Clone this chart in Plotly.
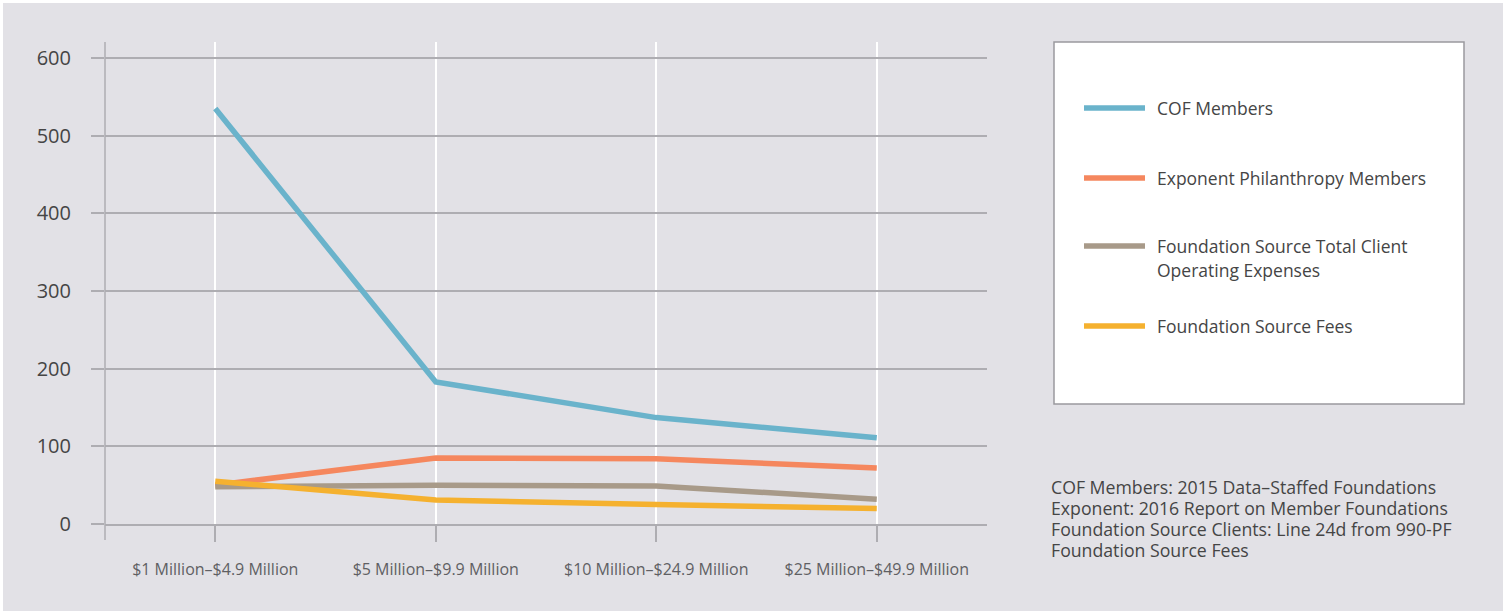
import plotly.graph_objects as go

categories = ["$1 Million\u2013$4.9 Million", "$5 Million\u2013$9.9 Million",
              "$10 Million\u2013$24.9 Million", "$25 Million\u2013$49.9 Million"]
cof_members = [535, 183, 137, 111]
exponent_members = [50, 85, 84, 72]
fs_total_opex = [48, 50, 49, 32]
fs_fees = [55, 31, 25, 20]
y_ticks = [0, 100, 200, 300, 400, 500, 600]

series_names = ["COF Members", "Exponent Philanthropy Members",
                "Foundation Source Total Client<br>Operating Expenses", "Foundation Source Fees"]
series_values = [cof_members, exponent_members, fs_total_opex, fs_fees]
series_colors = ["#6ab3cb", "#f5875e", "#a89a89", "#f5b12f"]

notes = ["COF Members: 2015 Data\u2013Staffed Foundations",
         "Exponent: 2016 Report on Member Foundations",
         "Foundation Source Clients: Line 24d from 990-PF",
         "Foundation Source Fees"]

OFF = 3  # page margin
W, H = 1503 - OFF, 611 - OFF
PL, PR, PT, PB = 105, 987, 42, 524  # plot area in page pixels
L, T = PL - OFF, PT - OFF
R = W - (PR - OFF)
B = H - (PB - OFF)
PW = PR - PL
PH = PB - PT
FONT = "Open Sans, sans-serif"
BG = "#e2e1e6"
GRID = "#aeadb2"
TEXT = "#454545"

def px_x(px):
    return (px - PL) / PW

def px_y(py):
    return (PB - py) / PH

fig = go.Figure()
idx = list(range(len(categories)))
for name, vals, col in zip(series_names, series_values, series_colors):
    fig.add_trace(go.Scatter(x=idx, y=vals, mode="lines", name=name.replace("<br>", " "),
                             line=dict(color=col, width=5.5), showlegend=False))

shapes = []
annotations = []

def text_at(x, y, s, size):
    annotations.append(dict(xref="paper", yref="paper", x=px_x(x), y=px_y(y),
                            xanchor="left", yanchor="middle", align="left", showarrow=False,
                            text=s, font=dict(family=FONT, size=size, color=TEXT)))

shapes.append(dict(type="line", xref="paper", yref="paper", x0=0, x1=0,
                   y0=px_y(540), y1=1, line=dict(color=GRID, width=1.5), layer="below"))
shapes.append(dict(type="rect", xref="paper", yref="paper",
                   x0=px_x(1054), x1=px_x(1464), y0=px_y(404), y1=px_y(42),
                   fillcolor="white", line=dict(color="#9a999e", width=1.5)))
legend_rows = [108, 178, 246, 326]
for name, col, row in zip(series_names, series_colors, legend_rows):
    shapes.append(dict(type="line", xref="paper", yref="paper",
                       x0=px_x(1084), x1=px_x(1145), y0=px_y(row), y1=px_y(row),
                       line=dict(color=col, width=5.5)))
    for k, part in enumerate(name.split("<br>")):
        text_at(1155, row + 24 * k, part, 17.5)
for k, line in enumerate(notes):
    text_at(1049, 487 + 21 * k, line, 17.7)

fig.update_layout(
    width=W, height=H,
    margin=dict(l=L, r=R, t=T, b=B, pad=0),
    paper_bgcolor=BG, plot_bgcolor=BG,
    shapes=shapes, annotations=annotations,
    xaxis=dict(range=[-0.5, 3.5], tickmode="array", tickvals=idx, ticktext=categories,
               showgrid=True, gridcolor="white", gridwidth=2,
               showline=True, linecolor=GRID, linewidth=1.5,
               ticks="outside", ticklen=16, tickcolor=GRID, tickwidth=1.5,
               ticklabelstandoff=14,
               tickfont=dict(family=FONT, size=16, color="#5f5f63"), zeroline=False),
    yaxis=dict(range=[0, 620.6], tickmode="array", tickvals=y_ticks,
               showgrid=True, gridcolor=GRID, gridwidth=1.5,
               showline=False, zeroline=False,
               ticks="outside", ticklen=13, tickcolor=GRID, tickwidth=1.5,
               ticklabelstandoff=16,
               tickfont=dict(family=FONT, size=20, color=TEXT)),
)

fig.write_html("out.html", post_script="document.body.style.margin='3px 0 0 3px';")
